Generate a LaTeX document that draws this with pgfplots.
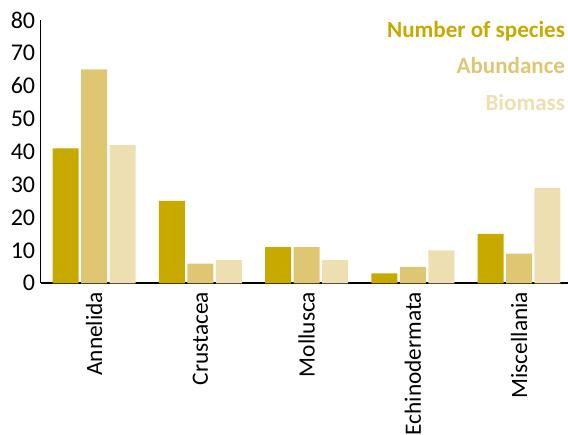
\documentclass[border=0pt]{standalone}
\usepackage{fontspec}
\setmainfont{Carlito}
\usepackage{pgfplots}
\pgfplotsset{compat=1.18}
\definecolor{cA}{HTML}{C8A900}
\definecolor{cB}{HTML}{DEC672}
\definecolor{cC}{HTML}{EEDFB2}
\begin{document}
\begin{tikzpicture}
\begin{axis}[
  at={(30.4pt,113.8pt)}, anchor=south west,
  scale only axis, width=395.6pt, height=197.5pt,
  xmin=-0.5035, xmax=4.461, ymin=0, ymax=80,
  axis lines*=left,
  axis line style={line width=1.3pt, black},
  xtick={0,1,2,3,4},
  xticklabels={Annelida,Crustacea,Mollusca,Echinodermata,Miscellania},
  ytick={0,10,...,80},
  tick style={draw=none},
  yticklabel style={font=\fontsize{18}{21}\selectfont},
  xticklabel style={rotate=90, anchor=east, font=\fontsize{17.5}{20}\selectfont},
  xticklabel shift=3pt,
  yticklabel shift=0.5pt,
  /pgf/number format/assume math mode=true,
  mybar/.style={ybar, bar width=0.2447, draw=none, legend image code/.code={}},
  legend style={draw=none, fill=none, at={(1,1)}, anchor=north east, inner sep=0pt,
    row sep=11.25pt, font=\fontsize{17.3}{20}\selectfont\bfseries,
    cells={anchor=east, text height=10.75pt, text depth=3.75pt, inner sep=0pt}},
]
\addplot[mybar, fill=cA, bar shift=-0.268] coordinates {(0,41) (1,25) (2,11) (3,3) (4,15)};
\addlegendentry{\textcolor{cA}{Number of species}}
\addplot[mybar, fill=cB, bar shift=0] coordinates {(0,65) (1,6) (2,11) (3,5) (4,9)};
\addlegendentry{\textcolor{cB}{Abundance}}
\addplot[mybar, fill=cC, bar shift=0.268] coordinates {(0,42) (1,7) (2,7) (3,10) (4,29)};
\addlegendentry{\textcolor{cC}{Biomass}}
\end{axis}
\pgfresetboundingbox
\useasboundingbox (0,0) rectangle (426pt,326.25pt);
\end{tikzpicture}
\end{document}
